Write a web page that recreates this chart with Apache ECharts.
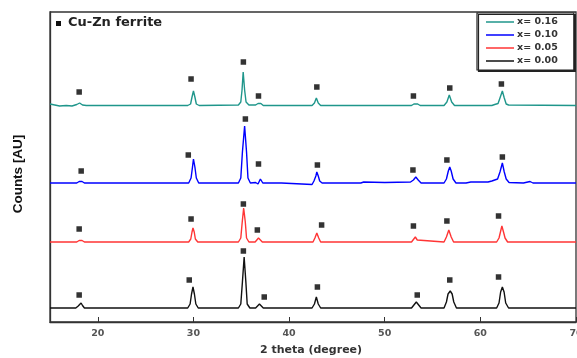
<!DOCTYPE html>
<html>
<head>
<meta charset="utf-8">
<script src="https://cdn.jsdelivr.net/npm/echarts@6/dist/echarts.min.js"></script>
<style>
  html, body { margin: 0; padding: 0; background: #fff; }
  #chart { width: 577px; height: 358px; }
</style>
</head>
<body>
<div id="chart"></div>
<script>
// 2theta ticks
const xTicks = [20, 30, 40, 50, 60, 70];

// traces, [2theta, counts] (stacked offsets already in counts)
const x016 = [[15,218],[15.5,217],[16.0,216],[16.7,216.5],[17.3,216],[17.8,217.5],[18.1,219],[18.4,217],[18.8,216.5],
  [29.4,216.5],[29.7,218],[29.85,225],[30.0,231],[30.15,225],[30.3,218],[30.6,216.5],
  [34.7,217],[34.95,220],[35.08,232],[35.2,250],[35.35,232],[35.5,220],[35.8,217],
  [36.5,217],[36.75,218.5],[36.9,220],[37.05,218.5],[37.3,216.5],
  [42.4,216.5],[42.65,219],[42.85,224],[43.05,219],[43.3,216.5],
  [52.8,216.5],[53.05,218],[53.25,220],[53.45,218],[53.7,216.5],
  [56.2,216.5],[56.5,220],[56.75,227],[57.0,220],[57.3,216.5],
  [61.2,216.5],[61.5,217.5],[61.85,218.5],[62.05,224],[62.3,231],[62.5,224],[62.7,218],[62.95,217],[70,216.5]];

const x010 = [[15,139],[17.8,139],[18.05,140.5],[18.2,142],[18.35,140.5],[18.6,139],
  [29.5,139],[29.75,144],[29.9,155],[30.0,163],[30.15,155],[30.3,144],[30.55,139],
  [34.7,139],[34.95,144],[35.12,170],[35.35,196],[35.55,170],[35.7,144],[35.95,139],
  [36.5,139.5],[36.75,138],[37.0,143],[37.25,139],
  [39.2,139],[39.4,137.5],[42.4,137.5],[42.6,141],[42.8,146],[42.9,150],[43.05,146],[43.2,141],[43.45,139],
  [47.5,139],[47.8,140],[50.0,139.5],[52.7,140],[53.0,142],[53.25,145],[53.5,142],[53.8,139],
  [56.2,139],[56.45,143],[56.65,151],[56.8,155],[56.95,151],[57.15,143],[57.45,139],
  [58.5,139],[59.0,140],[60.8,140],[61.2,141],[61.8,143],[62.05,150],[62.3,159],[62.5,150],[62.7,143],[63.0,139.5],
  [64.5,139],[65.2,140.5],[65.5,139],[67.7,139],[67.9,141],[68.1,139],[70,139]];

const x005 = [[15,80],[17.8,80],[18.05,81.5],[18.2,83],[18.35,81.5],[18.6,80],
  [29.5,80],[29.72,83],[29.85,90],[29.95,94],[30.08,90],[30.2,83],[30.45,80],
  [34.7,80],[34.95,84],[35.1,100],[35.25,114],[35.42,100],[35.55,84],[35.8,80],
  [36.45,80],[36.65,82],[36.8,84],[36.95,82],[37.2,80],
  [42.5,80],[42.7,84],[42.9,89],[43.1,84],[43.3,80],
  [52.8,80],[53.0,82],[53.2,85],[53.4,82],[53.6,80],
  [56.2,80],[56.45,85],[56.7,92],[56.95,85],[57.2,80],
  [61.7,80],[61.95,84],[62.1,90],[62.25,96],[62.42,90],[62.58,84],[62.85,80],[70,80]];

const x000 = [[15,14],[17.7,14],[17.95,16],[18.1,17],[18.25,19],[18.4,16.5],[18.6,14],
  [29.4,14],[29.65,18],[29.8,28],[29.95,35],[30.1,28],[30.25,18],[30.5,14],
  [34.7,14],[34.95,18],[35.12,40],[35.3,65],[35.48,40],[35.62,18],[35.9,14],
  [36.5,14],[36.7,16],[36.9,18],[37.05,16],[37.3,14],
  [42.4,14],[42.65,18],[42.85,25],[43.05,18],[43.3,14],
  [52.8,14],[53.05,17],[53.3,20],[53.55,17],[53.8,14],
  [56.2,14],[56.45,20],[56.62,28],[56.85,31],[57.05,28],[57.22,20],[57.5,14],
  [61.7,14],[61.95,19],[62.12,30],[62.3,35],[62.48,30],[62.65,19],[62.95,14],[70,14]];

// Cu-Zn ferrite peak markers
const mark016 = [[18.05,230],[29.75,243],[35.22,260],[36.8,226],[42.9,235],[53.0,226],[56.8,234],[62.2,238]];
const mark010 = [[18.26,151],[29.46,167],[35.43,203],[36.8,158],[42.96,157],[52.95,152],[56.5,162],[62.3,165]];
const mark005 = [[18.05,93],[29.75,103],[35.22,118],[36.68,92],[43.4,97],[53.0,96],[56.5,101],[61.9,106]];
const mark000 = [[18.05,27],[29.56,42],[35.22,71],[37.4,25],[42.96,35],[53.4,27],[56.8,42],[61.9,45]];

const names = ['x= 0.16', 'x= 0.10', 'x= 0.05', 'x= 0.00'];
const colors = ['#1f968b', '#0000ff', '#ff3535', '#111111'];
const traces = [x016, x010, x005, x000];

const chart = echarts.init(document.getElementById('chart'));

const series = traces.map((d, i) => ({
  name: names[i],
  type: 'line',
  data: d,
  symbol: 'none',
  lineStyle: { color: colors[i], width: 1.4 },
  itemStyle: { color: colors[i] },
  z: 3
}));
series.push({
  name: 'markers',
  type: 'scatter',
  data: [].concat(mark016, mark010, mark005, mark000),
  symbol: 'rect',
  symbolSize: 5.5,
  itemStyle: { color: '#000' },
  z: 4
});

chart.setOption({
  animation: false,
  grid: {
    left: 50, right: 1, top: 12, bottom: 36,
    outerBoundsMode: 'none',
    show: true, borderColor: '#333', borderWidth: 1.3
  },
  xAxis: {
    type: 'value', min: 15, max: 70,
    axisLine: { show: true, lineStyle: { color: '#333', width: 1.3 } },
    axisTick: { inside: true, length: 5, customValues: xTicks, lineStyle: { color: '#333' } },
    axisLabel: {
      customValues: xTicks, margin: 7, color: '#555',
      fontFamily: 'DejaVu Sans', fontWeight: 'bold', fontSize: 9.5
    },
    splitLine: { show: false }
  },
  yAxis: {
    type: 'value', min: 0, max: 310,
    axisLine: { show: true, lineStyle: { color: '#333', width: 1.3 } },
    axisTick: { show: false },
    axisLabel: { show: false },
    splitLine: { show: false }
  },
  legend: {
    data: names.map(n => ({ name: n, icon: 'rect' })),
    orient: 'vertical',
    left: 477, top: 13,
    itemWidth: 28, itemHeight: 1.5, itemGap: 3,
    padding: [4, 16, 4, 9],
    backgroundColor: '#fff',
    borderColor: '#222', borderWidth: 1.2,
    shadowColor: '#222', shadowOffsetX: 1.5, shadowOffsetY: 1.5, shadowBlur: 0,
    textStyle: { color: '#333', fontFamily: 'DejaVu Sans', fontWeight: 'bold', fontSize: 9.5, padding: [0, 0, 0, -2] },
    selectedMode: false
  },
  graphic: [
    { type: 'rect', left: 56, top: 21, shape: { width: 5, height: 5 }, style: { fill: '#111' } },
    { type: 'text', left: 68, top: 16, style: { text: 'Cu-Zn ferrite', fill: '#222', font: 'bold 13px "DejaVu Sans"' } },
    { type: 'text', x: 311, y: 350, style: { text: '2 theta (degree)', fill: '#333', font: 'bold 11px "DejaVu Sans"', align: 'center', verticalAlign: 'middle' } },
    { type: 'text', x: 18, y: 174, rotation: Math.PI / 2, style: { text: 'Counts [AU]', fill: '#111', font: 'bold 13.5px "Liberation Sans"', align: 'center', verticalAlign: 'middle' } }
  ],
  series: series
});
</script>
</body>
</html>
